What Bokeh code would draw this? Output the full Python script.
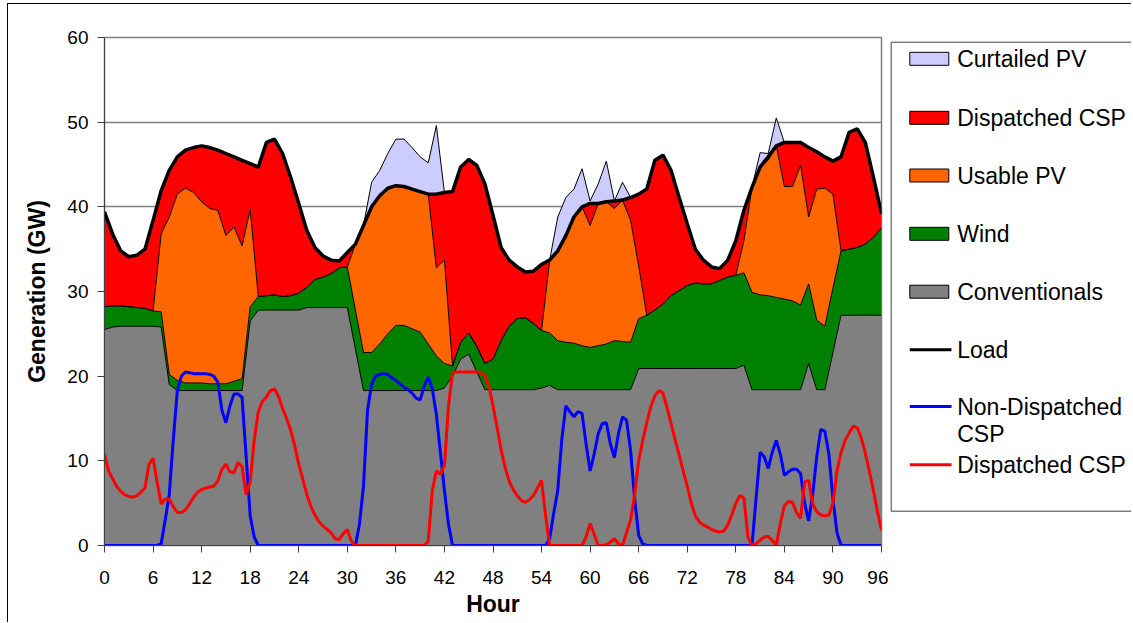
from bokeh.plotting import figure
from bokeh.models import ColumnDataSource, Range1d, FixedTicker
from bokeh.layouts import row
from bokeh.embed import file_html
from bokeh.resources import INLINE
from bokeh.core.properties import value

# ---------------- data (GW) ----------------
hours = list(range(97))

conventionals = [
    25.5, 25.8, 25.9, 25.9, 25.9, 25.9,
    25.9, 25.8, 19.0, 18.3, 18.3, 18.3,
    18.3, 18.3, 18.3, 18.3, 18.3, 18.3,
    26.5, 27.8, 27.8, 27.8, 27.8, 27.8,
    27.8, 28.1, 28.1, 28.1, 28.1, 28.1,
    28.1, 23.2, 18.3, 18.3, 18.3, 18.3,
    18.3, 18.3, 18.3, 18.3, 18.3, 18.3,
    18.6, 20.0, 22.0, 22.6, 20.5, 18.4,
    18.4, 18.4, 18.4, 18.4, 18.4, 18.4,
    18.6, 18.9, 18.4, 18.4, 18.4, 18.4,
    18.4, 18.4, 18.4, 18.4, 18.4, 18.4,
    20.9, 20.9, 20.9, 20.9, 20.9, 20.9,
    20.9, 20.9, 20.9, 20.9, 20.9, 20.9,
    20.9, 21.3, 18.4, 18.4, 18.4, 18.4,
    18.4, 18.4, 18.4, 21.5, 18.4, 18.4,
    22.8, 27.2, 27.2, 27.2, 27.2, 27.2,
    27.2]

wind = [
    2.7, 2.5, 2.4, 2.3, 2.2, 2.1,
    1.8, 1.8, 1.2, 1.2, 0.9, 0.9,
    0.9, 0.8, 0.8, 0.8, 1.1, 1.4,
    1.7, 1.6, 1.7, 1.8, 1.6, 1.7,
    2.0, 2.4, 3.3, 3.6, 4.0, 4.7,
    4.8, 4.6, 4.5, 4.5, 5.5, 6.7,
    7.7, 7.7, 7.3, 6.9, 5.5, 4.1,
    2.9, 1.2, 2.0, 2.5, 3.0, 3.1,
    3.6, 5.8, 7.5, 8.4, 8.5, 7.8,
    6.8, 6.2, 5.8, 5.6, 5.5, 5.2,
    5.0, 5.2, 5.4, 5.8, 5.7, 5.6,
    5.9, 6.3, 6.9, 7.6, 8.6, 9.2,
    9.8, 10.1, 10.0, 10.0, 10.4, 10.8,
    11.0, 10.9, 11.5, 11.2, 11.1, 10.9,
    10.7, 10.5, 10.0, 9.4, 8.2, 7.5,
    7.6, 7.6, 7.8, 8.0, 8.4, 9.2,
    10.3]

usable_pv = [
    0, 0, 0, 0, 0, 0,
    0, 9.2, 18.6, 22.0, 23.0, 22.5,
    21.4, 20.7, 20.5, 17.5, 18.2, 15.7,
    11.5, 0, 0, 0, 0, 0,
    0, 0, 0, 0, 0, 0,
    0, 7.8, 15.0, 17.2, 17.5, 17.2,
    16.5, 16.4, 16.5, 16.6, 17.7, 10.4,
    12.2, 0, 0, 0, 0, 0,
    0, 0, 0, 0, 0, 0,
    0, 8.6, 10.6, 12.6, 14.9, 16.4,
    14.4, 16.8, 16.8, 15.6, 16.7, 14.4,
    6.2, 0, 0, 0, 0, 0,
    0, 0, 0, 0, 0, 0,
    0, 3.8, 12.4, 15.1, 16.0, 17.9,
    13.3, 13.5, 16.5, 7.9, 15.5, 16.3,
    11.1, 0, 0, 0, 0, 0,
    0]

dispatched_csp = [
    11.2, 8.5, 6.5, 5.9, 6.2, 7.0,
    10.7, 5.1, 5.5, 4.4, 4.5, 5.3,
    6.6, 7.2, 7.1, 9.7, 8.3, 10.1,
    5.4, 15.3, 18.1, 18.4, 16.9, 14.0,
    10.6, 6.7, 3.8, 2.5, 1.6, 0.8,
    1.7, 0, 0, 0, 0, 0,
    0, 0, 0, 0, 0, 8.7,
    8.0, 20.6, 20.7, 20.5, 21.4, 21.2,
    17.0, 11.0, 7.8, 6.1, 5.4, 6.2,
    7.8, 0, 0, 0, 0, 0,
    2.6, 0, 0, 0.9, 0, 2.7,
    8.5, 14.9, 17.7, 17.6, 14.8, 11.0,
    7.3, 4.0, 2.8, 2.0, 1.4, 2.0,
    4.1, 3.6, 0, 0, 0.4, 0,
    5.2, 5.2, 2.7, 8.2, 4.4, 3.7,
    3.9, 11.1, 13.8, 14.0, 12.0, 7.1,
    1.7]

curtailed_pv = [
    0, 0, 0, 0, 0, 0,
    0, 0, 0, 0, 0, 0,
    0, 0, 0, 0, 0, 0,
    0, 0, 0, 0, 0, 0,
    0, 0, 0, 0, 0, 0,
    0, 0, 0, 2.9, 3.0, 4.1,
    5.5, 5.6, 4.9, 4.1, 3.7, 8.1,
    0, 0, 0, 0, 0, 0,
    0, 0, 0, 0, 0, 0,
    0, 0, 4.0, 4.5, 3.3, 4.5,
    0.3, 2.3, 4.8, 0, 2.1, 0,
    0, 0, 0, 0, 0, 0,
    0, 0, 0, 0, 0, 0,
    0, 0, 0, 1.7, 0.4, 3.3,
    0, 0, 0, 0, 0, 0,
    0, 0, 0, 0, 0, 0,
    0]

load = [
    39.4, 36.8, 34.8, 34.1, 34.3, 35.0,
    38.4, 41.9, 44.3, 45.9, 46.7, 47.0,
    47.2, 47.0, 46.7, 46.3, 45.9, 45.5,
    45.1, 44.7, 47.6, 48.0, 46.3, 43.5,
    40.4, 37.2, 35.2, 34.2, 33.7, 33.6,
    34.6, 35.6, 37.8, 40.0, 41.3, 42.2,
    42.5, 42.4, 42.1, 41.8, 41.5, 41.5,
    41.7, 41.8, 44.7, 45.6, 44.9, 42.7,
    39.0, 35.2, 33.7, 32.9, 32.3, 32.4,
    33.2, 33.7, 34.8, 36.6, 38.8, 40.0,
    40.4, 40.4, 40.6, 40.7, 40.8, 41.1,
    41.5, 42.1, 45.5, 46.1, 44.3, 41.1,
    38.0, 35.0, 33.7, 32.9, 32.7, 33.7,
    36.0, 39.6, 42.3, 44.7, 45.9, 47.2,
    47.6, 47.6, 47.6, 47.0, 46.5, 45.9,
    45.4, 45.9, 48.8, 49.2, 47.6, 43.5,
    39.2]

# half-hourly line series (t = 0, 0.5, ... 96)
line_time = [i * 0.5 for i in range(193)]

non_dispatched_csp_line = [
    0, 0, 0, 0, 0, 0, 0, 0, 0, 0, 0, 0,
    0, 0, 0.2, 3.0, 6.0, 12.5, 18.3, 20.0, 20.5, 20.4, 20.3, 20.3,
    20.3, 20.3, 20.2, 20.0, 19.3, 16.0, 14.5, 16.5, 17.9, 17.9, 17.5, 10.5,
    3.5, 1.0, 0, 0, 0, 0, 0, 0, 0, 0, 0, 0,
    0, 0, 0, 0, 0, 0, 0, 0, 0, 0, 0, 0,
    0, 0, 0, 2.5, 7.0, 16.0, 19.0, 20.0, 20.2, 20.3, 20.2, 19.8,
    19.5, 19.1, 18.7, 18.4, 18.0, 17.4, 17.2, 18.8, 19.9, 18.5, 15.5, 11.0,
    6.5, 2.5, 0, 0, 0, 0, 0, 0, 0, 0, 0, 0,
    0, 0, 0, 0, 0, 0, 0, 0, 0, 0, 0, 0,
    0, 0, 0.8, 3.8, 6.5, 12.5, 16.5, 15.8, 15.2, 15.8, 15.6, 12.0,
    8.8, 10.8, 13.2, 14.4, 14.5, 12.0, 10.4, 13.2, 15.2, 14.8, 11.2, 5.5,
    1.2, 0.2, 0, 0, 0, 0, 0, 0, 0, 0, 0, 0,
    0, 0, 0, 0, 0, 0, 0, 0, 0, 0, 0, 0,
    0, 0, 0, 0, 0, 5.5, 11.0, 10.5, 9.1, 11.0, 12.4, 10.8,
    8.3, 8.7, 9.0, 9.0, 8.5, 5.0, 2.9, 6.0, 10.5, 13.7, 13.5, 10.8,
    5.5, 1.5, 0, 0, 0, 0, 0, 0, 0, 0, 0, 0,
    0]

dispatched_csp_line = [
    10.8, 8.8, 7.9, 7.0, 6.4, 6.0, 5.8, 5.7, 5.9, 6.3, 6.8, 9.6,
    10.3, 7.5, 4.9, 5.5, 5.5, 4.6, 3.9, 3.9, 4.2, 4.9, 5.7, 6.3,
    6.6, 6.8, 6.9, 7.0, 7.6, 9.0, 9.6, 8.7, 8.6, 9.8, 9.3, 6.0,
    7.5, 12.5, 15.8, 17.0, 17.5, 18.3, 18.5, 17.6, 16.2, 15.0, 13.6, 11.8,
    9.6, 7.8, 6.0, 4.6, 3.6, 2.8, 2.3, 1.9, 1.5, 0.8, 0.7, 1.4,
    1.9, 0.5, 0, 0, 0, 0, 0, 0, 0, 0, 0, 0,
    0, 0, 0, 0, 0, 0, 0, 0, 0.5, 6.5, 8.8, 8.4,
    9.5, 16.5, 20.4, 20.5, 20.5, 20.5, 20.5, 20.5, 20.5, 20.4, 20.0, 18.8,
    16.5, 14.0, 11.3, 9.2, 7.6, 6.6, 5.9, 5.3, 5.1, 5.4, 5.9, 6.8,
    7.7, 3.5, 0, 0, 0, 0, 0, 0, 0, 0, 0, 1.0,
    2.6, 1.3, 0, 0, 0.1, 0.4, 0.8, 0.2, 0, 1.5, 3.0, 6.0,
    10.0, 12.4, 14.5, 16.4, 17.7, 18.3, 18.0, 16.3, 14.4, 12.5, 10.7, 8.8,
    7.0, 5.0, 3.5, 2.8, 2.4, 2.2, 1.9, 1.7, 1.6, 1.7, 2.4, 3.6,
    5.0, 5.9, 5.6, 1.0, 0, 0.2, 0.6, 1.0, 1.1, 0.6, 0, 2.6,
    4.7, 5.2, 5.1, 3.9, 3.2, 7.5, 7.7, 4.9, 4.0, 3.6, 3.5, 3.6,
    5.0, 8.8, 11.0, 12.4, 13.3, 14.1, 13.9, 12.7, 10.9, 8.8, 6.5, 4.0,
    1.8]

x_ticks = [0, 6, 12, 18, 24, 30, 36, 42, 48, 54, 60, 66, 72, 78, 84, 90, 96]
y_ticks = [0, 10, 20, 30, 40, 50, 60]

area_labels = ["Curtailed PV", "Dispatched CSP", "Usable PV", "Wind", "Conventionals"]
area_colors = ["#CCCCFF", "#FF0000", "#FF6600", "#008000", "#808080"]
line_labels = ["Load", "Non-Dispatched", "Dispatched CSP"]
line_label_extra = "CSP"
line_colors = ["#000000", "#0000FF", "#FF0000"]

FONT = "Liberation Sans"

# ---------------- layout constants (page pixels) ----------------
OFF_X, OFF_Y = 8, 4          # where the canvases start (after outer border)
FRAME_L, FRAME_T, FRAME_W, FRAME_H = 104, 37, 777, 508
MAIN_W = 880
H = 618
LEG_W = 243
MB_TOP = FRAME_T - OFF_Y
MB_BOTTOM = H - MB_TOP - FRAME_H

# ---------------- main chart ----------------
src = ColumnDataSource(dict(hour=hours, conv=conventionals, wind=wind, pv=usable_pv,
                            csp=dispatched_csp, curt=curtailed_pv))
stackers = ["conv", "wind", "pv", "csp", "curt"]
stack_colors = ["#808080", "#008000", "#FF6600", "#FF0000", "#CCCCFF"]

p = figure(width=MAIN_W, height=H, min_border_left=FRAME_L - OFF_X,
           min_border_right=MAIN_W - (FRAME_L - OFF_X) - FRAME_W,
           min_border_top=MB_TOP, min_border_bottom=MB_BOTTOM,
           x_range=Range1d(0, 96), y_range=Range1d(0, 60),
           output_backend="svg", toolbar_location=None,
           background_fill_color="white", border_fill_color="white")

p.varea_stack(stackers, x="hour", color=stack_colors, source=src)
p.vline_stack(stackers, x="hour", color="black", line_width=1, source=src)
p.line(hours, load, color="black", line_width=3.5)
p.line(line_time, non_dispatched_csp_line, color="#0000FF", line_width=3)
p.line(line_time, dispatched_csp_line, color="#FF0000", line_width=3)

p.xaxis.ticker = FixedTicker(ticks=x_ticks)
p.yaxis.ticker = FixedTicker(ticks=y_ticks)
p.xgrid.visible = False
p.ygrid.grid_line_color = "#808080"
p.ygrid.grid_line_width = 1.5
p.outline_line_color = "#808080"
p.outline_line_width = 1.5

p.axis.axis_line_color = "#404040"
p.axis.major_tick_line_color = "#404040"
p.axis.major_tick_out = 7
p.axis.major_tick_in = 0
p.axis.minor_tick_line_color = None
p.axis.major_label_text_font = FONT
p.axis.major_label_text_font_size = "19px"
p.axis.major_label_text_color = "black"
p.xaxis.major_label_standoff = 18
p.yaxis.major_label_standoff = 9
p.xaxis.axis_label = "Hour"
p.yaxis.axis_label = "Generation (GW)"
p.axis.axis_label_text_font = FONT
p.axis.axis_label_text_font_style = "bold"
p.axis.axis_label_text_font_size = "23px"
p.axis.axis_label_text_color = "black"
p.xaxis.axis_label_standoff = 4
p.yaxis.axis_label_standoff = 14

# ---------------- legend panel (drawn in page-pixel coordinates) ----------------
leg_x0 = OFF_X + MAIN_W
leg = figure(width=LEG_W, height=H, x_range=Range1d(leg_x0, leg_x0 + LEG_W),
             y_range=Range1d(FRAME_T + FRAME_H, FRAME_T),
             min_border_left=0, min_border_right=0,
             min_border_top=MB_TOP, min_border_bottom=MB_BOTTOM,
             x_axis_location=None, y_axis_location=None,
             output_backend="svg", toolbar_location=None,
             background_fill_color="white", border_fill_color="white")
leg.grid.visible = False
leg.outline_line_color = None

leg.quad(left=[890.7], right=[1300], top=[41.7], bottom=[510.7],
         fill_color="white", line_color="#404040", line_width=1)

area_y = [58.3, 117.3, 175.0, 233.3, 291.2]
leg.quad(left=[909.3] * 5, right=[948.3] * 5,
         top=[y - 6.5 for y in area_y], bottom=[y + 6.5 for y in area_y],
         fill_color=area_colors, line_color="black", line_width=1)
leg.text(x=[956.7] * 5, y=area_y, text=area_labels,
         text_font=value(FONT), text_font_size="23px", text_color="black",
         text_baseline="middle", text_align="left")

line_y = [349.3, 406.0, 464.3]
line_w = [3, 3, 3]
for yy, c, w in zip(line_y, line_colors, line_w):
    leg.segment(x0=[909.3], x1=[951], y0=[yy], y1=[yy], line_color=c, line_width=w)
leg.text(x=[956.7] * 4, y=line_y + [433.3], text=line_labels + [line_label_extra],
         text_font=value(FONT), text_font_size="23px", text_color="black",
         text_baseline="middle", text_align="left")

layout = row(p, leg, styles={"margin-left": "7px", "margin-top": "3px",
                             "border-left": "1px solid black",
                             "border-top": "1px solid black"})
open("out.html", "w").write(file_html(layout, INLINE))
